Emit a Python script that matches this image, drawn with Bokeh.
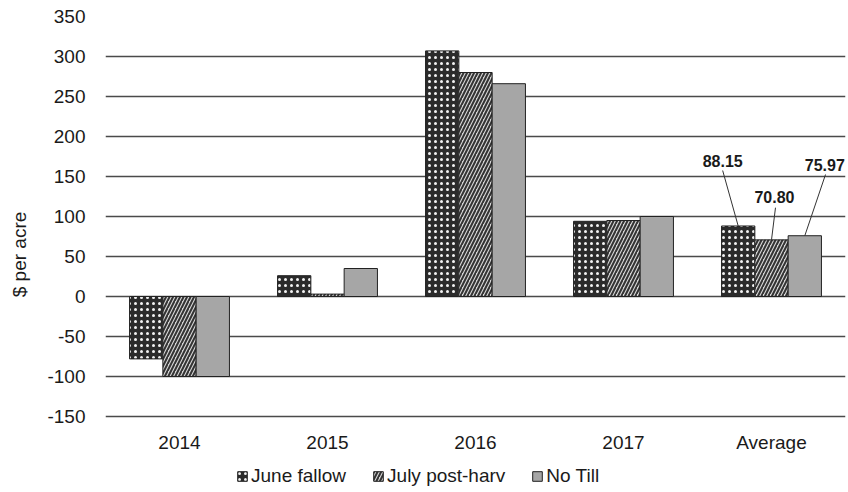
from bokeh.plotting import figure
from bokeh.models import ColumnDataSource, Range1d, FixedTicker, Legend, LegendItem
from bokeh.embed import file_html
from bokeh.resources import INLINE
from bokeh.core.properties import value

# ---- data ----
categories = ["2014", "2015", "2016", "2017", "Average"]
june_fallow = [-78, 26, 307, 94, 88.15]
july_post_harv = [-100, 3, 280, 95, 70.80]
no_till = [-100, 35, 266, 100, 75.97]
series_names = ["June fallow", "July post-harv", "No Till"]
y_ticks = [-150, -100, -50, 0, 50, 100, 150, 200, 250, 300, 350]
avg_label_text = ["88.15", "70.80", "75.97"]

# ---- layout / style ----
FONT = "Liberation Sans"
FS = "19px"
bar_w = 0.225
offsets = [-bar_w, 0.0, bar_w]
y_min, y_max = -150, 350
y_pad_below = 95  # room under the lowest gridline for category labels + legend (data units)
# label placement for the "Average" callouts (x offset from category centre, y in $)
lab_dx = [-0.33, 0.02, 0.36]
lab_y = [162, 117, 157]
line_dx0 = [-0.33, 0.027, 0.365]
line_y0 = [157.5, 111, 152.5]

p = figure(width=848, height=492, output_backend="svg", toolbar_location=None,
           x_range=Range1d(0.5, len(categories) + 0.5), y_range=Range1d(y_min - y_pad_below, y_max),
           min_border_left=105, min_border_right=3, min_border_top=16, min_border_bottom=0)
p.outline_line_color = None
p.background_fill_color = "white"
p.border_fill_color = "white"

xs = [i + 1 for i in range(len(categories))]
styles = [
    dict(fill_color="#2b2b2b", hatch_pattern="dot", hatch_color="#f2f2f2", hatch_scale=6, hatch_weight=1),
    dict(fill_color="#d4d4d4", hatch_pattern="right_diagonal_line", hatch_color="#333333", hatch_scale=7, hatch_weight=2),
    dict(fill_color="#a6a6a6"),
]
renderers = []
for vals, off, st in zip([june_fallow, july_post_harv, no_till], offsets, styles):
    src = ColumnDataSource(dict(x=[x + off for x in xs], top=vals))
    r = p.vbar(x="x", top="top", bottom=0, width=bar_w, source=src,
               line_color="#222222", line_width=1, **st)
    renderers.append(r)

# Average callouts
avg_x = xs[-1]
avg_vals = [june_fallow[-1], july_post_harv[-1], no_till[-1]]
seg_src = ColumnDataSource(dict(
    x0=[avg_x + d for d in line_dx0], y0=line_y0,
    x1=[avg_x + d for d in offsets], y1=avg_vals))
p.segment(x0="x0", y0="y0", x1="x1", y1="y1", source=seg_src, line_color="#333333", line_width=1)
lab_src = ColumnDataSource(dict(x=[avg_x + d for d in lab_dx], y=lab_y, t=avg_label_text))
p.text(x="x", y="y", text="t", source=lab_src, text_font=value(FONT), text_font_style="bold",
       text_font_size="16px", text_align="center", text_baseline="bottom", text_color="#1a1a1a")

# axes
p.xaxis.fixed_location = y_min
p.xaxis.ticker = FixedTicker(ticks=xs)
p.xaxis.major_label_overrides = {x: c for x, c in zip(xs, categories)}
p.xaxis.axis_line_color = None
p.xaxis.major_tick_line_color = None
p.xaxis.minor_tick_line_color = None
p.xaxis.major_label_text_font = FONT
p.xaxis.major_label_text_font_size = FS
p.xaxis.major_label_text_color = "#1a1a1a"
p.xaxis.major_label_standoff = 9

p.yaxis.ticker = FixedTicker(ticks=y_ticks)
p.yaxis.major_label_overrides = {t: str(t) for t in y_ticks}
p.yaxis.axis_line_color = None
p.yaxis.major_tick_line_color = None
p.yaxis.minor_tick_line_color = None
p.yaxis.major_label_text_font = FONT
p.yaxis.major_label_text_font_size = FS
p.yaxis.major_label_text_color = "#1a1a1a"
p.yaxis.major_label_standoff = 14
p.yaxis.axis_label = "$ per acre"
p.yaxis.axis_label_text_font = FONT
p.yaxis.axis_label_text_font_size = FS
p.yaxis.axis_label_text_font_style = "normal"
p.yaxis.axis_label_text_color = "#1a1a1a"
p.yaxis.axis_label_standoff = 14

p.xgrid.grid_line_color = None
p.ygrid.ticker = FixedTicker(ticks=y_ticks)
p.ygrid.grid_line_color = "#4a4a4a"
p.ygrid.grid_line_width = 1.4

legend = Legend(items=[LegendItem(label=n, renderers=[r]) for n, r in zip(series_names, renderers)],
                orientation="horizontal", location=(131, 5),
                label_text_font=FONT, label_text_font_size=FS, label_text_color="#1a1a1a",
                label_height=20, glyph_width=12, glyph_height=12, label_standoff=3, spacing=26,
                border_line_color=None, background_fill_alpha=0, padding=0, margin=0)
p.add_layout(legend, "center")

open("out.html", "w").write(file_html(p, INLINE))
